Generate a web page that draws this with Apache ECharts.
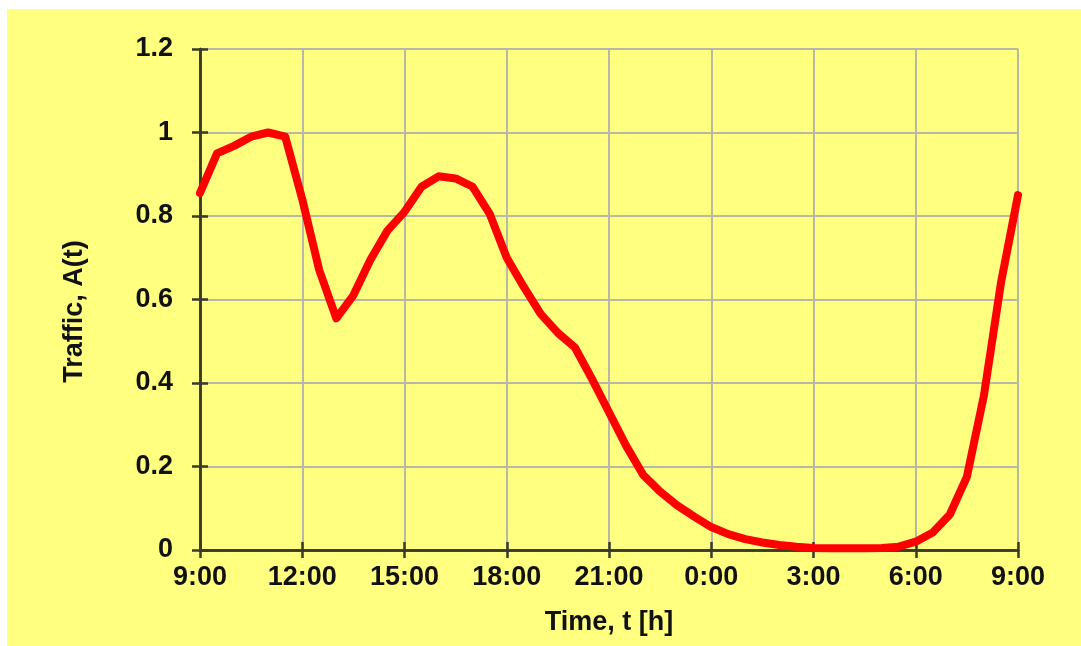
<!DOCTYPE html>
<html>
<head>
<meta charset="utf-8">
<script src="https://cdn.jsdelivr.net/npm/echarts@6/dist/echarts.min.js"></script>
<style>
  html, body { margin: 0; padding: 0; background: #ffffff; width: 1081px; height: 646px; overflow: hidden; }
  #panel { position: absolute; left: 7px; top: 9px; width: 1074px; height: 637px; background: #ffff80; }
  #chart { width: 100%; height: 100%; }
</style>
</head>
<body>
<div id="panel"><div id="chart"></div></div>
<script>
// Hours elapsed since 9:00, sampled every half hour over one day
const hoursSince9 = [
  0, 0.5, 1, 1.5, 2, 2.5, 3, 3.5, 4, 4.5, 5, 5.5, 6, 6.5, 7, 7.5,
  8, 8.5, 9, 9.5, 10, 10.5, 11, 11.5, 12, 12.5, 13, 13.5, 14, 14.5, 15, 15.5,
  16, 16.5, 17, 17.5, 18, 18.5, 19, 19.5, 20, 20.5, 21, 21.5, 22, 22.5, 23, 23.5, 24
];

// Normalised traffic A(t)
const traffic = [
  0.855, 0.95, 0.968, 0.99, 1.0, 0.99, 0.84, 0.67, 0.555, 0.61, 0.695, 0.765, 0.81, 0.87, 0.895, 0.89,
  0.87, 0.805, 0.70, 0.63, 0.565, 0.52, 0.485, 0.41, 0.33, 0.25, 0.18, 0.14, 0.107, 0.08, 0.055, 0.038,
  0.026, 0.018, 0.012, 0.008, 0.005, 0.004, 0.004, 0.004, 0.005, 0.008, 0.02, 0.042, 0.085, 0.175, 0.37, 0.64, 0.85
];

// Clock labels for the 3-hour ticks
const timeTicks = ['9:00', '12:00', '15:00', '18:00', '21:00', '0:00', '3:00', '6:00', '9:00'];

const points = hoursSince9.map((h, i) => [h, traffic[i]]);

const labelFont = { fontFamily: '"Liberation Sans", Arial, sans-serif', fontWeight: 'bold', color: '#111111' };
const frame = { show: true, lineStyle: { color: '#3a3a2a', width: 2.5 } };
const gridLines = { show: true, lineStyle: { color: '#b8b8a8', width: 2 } };
const inTicks = { show: true, inside: true, length: 8, lineStyle: { color: '#3a3a2a', width: 2.5 } };

const chart = echarts.init(document.getElementById('chart'), null, { renderer: 'canvas' });
chart.setOption({
  backgroundColor: 'transparent',
  animation: false,
  grid: { left: 193, top: 40, right: 63, bottom: 96, containLabel: false },
  xAxis: [
    {
      type: 'value', min: 0, max: 24, interval: 3, position: 'bottom',
      axisLine: frame, axisTick: inTicks, splitLine: gridLines,
      axisLabel: Object.assign({ fontSize: 27, margin: 14, formatter: v => timeTicks[Math.round(v / 3)] }, labelFont),
      name: 'Time, t [h]', nameLocation: 'middle', nameGap: 59,
      nameTextStyle: Object.assign({ fontSize: 27 }, labelFont)
    },
    {
      type: 'value', min: 0, max: 24, interval: 3, position: 'top',
      axisLine: frame, axisTick: inTicks, splitLine: { show: false }, axisLabel: { show: false }
    }
  ],
  yAxis: [
    {
      type: 'value', min: 0, max: 1.2, interval: 0.2, position: 'left',
      axisLine: frame, axisTick: inTicks, splitLine: gridLines,
      axisLabel: Object.assign({ fontSize: 27, margin: 27 }, labelFont),
      name: 'Traffic, A(t)', nameLocation: 'middle', nameGap: 112, nameRotate: 90,
      nameTextStyle: Object.assign({ fontSize: 27, padding: [0, 24, 0, 0] }, labelFont)
    },
    {
      type: 'value', min: 0, max: 1.2, interval: 0.2, position: 'right',
      axisLine: frame, axisTick: inTicks, splitLine: { show: false }, axisLabel: { show: false }
    }
  ],
  series: [{
    type: 'line',
    data: points,
    smooth: false,
    showSymbol: false,
    symbol: 'none',
    lineStyle: { color: '#ff0000', width: 8, join: 'round', cap: 'round' },
    z: 5
  }]
});
</script>
</body>
</html>
